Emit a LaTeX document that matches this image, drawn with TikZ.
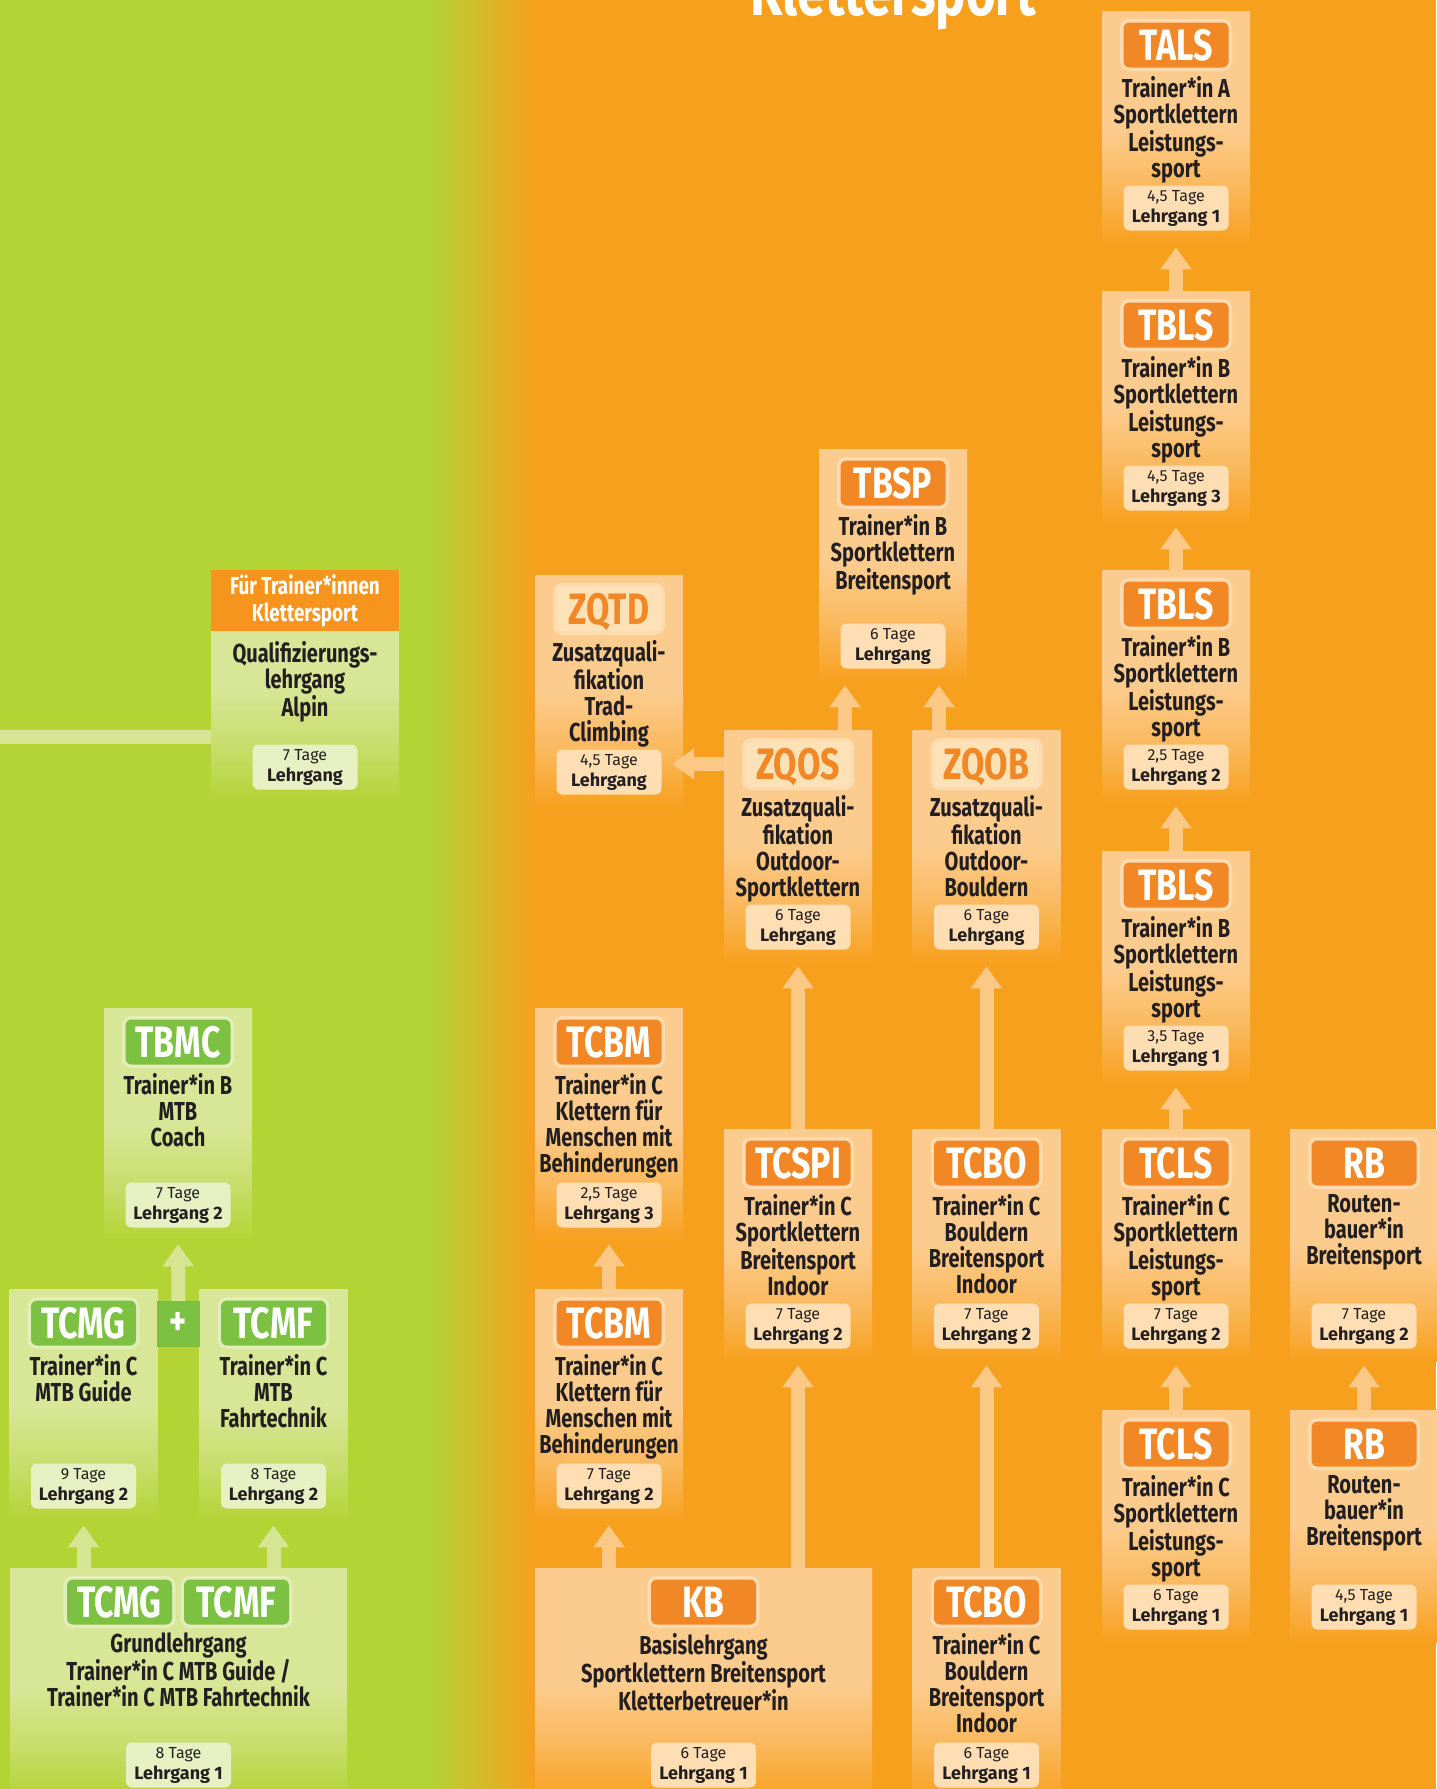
\documentclass[tikz,border=0pt]{standalone}
\usepackage{fontspec}
\setmainfont{Fira Sans}[FakeStretch=0.77]
\newfontfamily\breit{Fira Sans}
\usetikzlibrary{calc,arrows.meta}

\definecolor{orbg}{RGB}{247,160,30}
\definecolor{orlight}{RGB}{252,204,142}
\definecolor{orinfo}{RGB}{254,222,178}
\definecolor{orbadge}{RGB}{242,135,38}
\definecolor{orbtext}{RGB}{255,255,255}
\definecolor{orpfeil}{RGB}{251,200,134}
\definecolor{orkopf}{RGB}{246,148,30}
\definecolor{grbg}{RGB}{180,211,52}
\definecolor{grlight}{RGB}{216,230,152}
\definecolor{grinfo}{RGB}{230,240,194}
\definecolor{grbadge}{RGB}{125,193,66}
\definecolor{grbtext}{RGB}{255,255,255}
\definecolor{grpfeil}{RGB}{214,229,146}
\definecolor{zqbadge}{RGB}{253,226,184}
\definecolor{zqbtext}{RGB}{242,135,38}
\colorlet{zqinfo}{orinfo}
\definecolor{tiefgrau}{RGB}{35,31,32}

\pgfdeclareverticalshading{orfade}{100bp}{color(0bp)=(orbg); color(25bp)=(orbg); color(37bp)=(orlight!55!orbg); color(50bp)=(orlight); color(100bp)=(orlight)}
\pgfdeclareverticalshading{zqfade}{100bp}{color(0bp)=(orbg); color(25bp)=(orbg); color(37bp)=(orlight!55!orbg); color(50bp)=(orlight); color(100bp)=(orlight)}
\pgfdeclareverticalshading{grfade}{100bp}{color(0bp)=(grbg); color(25bp)=(grbg); color(37bp)=(grlight!55!grbg); color(50bp)=(grlight); color(100bp)=(grlight)}

\tikzset{
  kursbox/.style={shade, shading=#1fade, minimum height=232pt, inner sep=0pt, anchor=north},
  kuerzel/.style={fill=#1badge, text=#1btext, rounded corners=6pt, minimum width=105pt,
    minimum height=45pt, inner sep=0pt, text height=30pt, text depth=0pt,
    font=\fontsize{44}{44}\selectfont\bfseries,
    preaction={draw=white, draw opacity=0.3, line width=7pt}},
  kurstext/.style={anchor=north, inner sep=0pt, align=center, text=tiefgrau,
    font=\fontsize{26}{26}\selectfont\bfseries},
  dauer/.style={fill=#1info, rounded corners=6pt, minimum width=105pt, minimum height=45pt,
    inner sep=0pt, align=center, text=tiefgrau, font=\breit\fontsize{16}{21}\selectfont},
  kopf/.style={fill=orkopf, text=white, minimum width=188pt, minimum height=61pt, inner sep=0pt,
    align=center, font=\fontsize{24.5}{27}\selectfont\bfseries},
  plusbox/.style={fill=grbadge, text=white, minimum width=43pt, minimum height=46pt, inner sep=0pt,
    font=\fontsize{42}{42}\selectfont\bfseries},
  pfeil/.style={draw=#1pfeil, line width=14pt, -{Triangle[width=30pt,length=22pt]}, shorten >=4pt},
  balken/.style={draw=grpfeil, line width=14pt},
  titel/.style={anchor=base, inner sep=0pt, text=white, font=\fontsize{66}{66}\selectfont\bfseries},
}

% Kasten: [Breite] Name, Farbe, Lage (oben Mitte), Kuerzel, Text, Tage, Lehrgang
\newcommand{\kurs}[8][148pt]{%
  \node[kursbox=#3, minimum width=#1] (#2) at (#4) {};
  \node[kuerzel=#3] (#2-k) at ($(#2.north)+(0,34)$) {#5};
  \node[kurstext] (#2-t) at ($(#2.north)+(0,65)$) {#6};
  \node[dauer=#3] (#2-d) at ($(#2.north)+(0,197)$) {#7\\\textbf{\fontsize{18}{21}\selectfont #8}};
}

\begin{document}
\begin{tikzpicture}[x=1pt,y=-1pt]
  \useasboundingbox (0,0) rectangle (1436,1789);
  % Hintergrund
  \fill[grbg] (0,0) rectangle (430,1789);
  \shade[left color=grbg, right color=orbg] (430,0) rectangle (535,1789);
  \fill[orbg] (535,0) rectangle (1436,1789);
  \node[titel] (titel) at (893,15) {Klettersport};

  % Leistungssport
  \kurs{tals}{or}{1176,11}{TALS}{Trainer*in A\\Sportklettern\\Leistungs-\\sport}{4,5 Tage}{Lehrgang 1}
  \kurs{tblsc}{or}{1176,291}{TBLS}{Trainer*in B\\Sportklettern\\Leistungs-\\sport}{4,5 Tage}{Lehrgang 3}
  \kurs{tblsb}{or}{1176,570}{TBLS}{Trainer*in B\\Sportklettern\\Leistungs-\\sport}{2,5 Tage}{Lehrgang 2}
  \kurs{tblsa}{or}{1176,851}{TBLS}{Trainer*in B\\Sportklettern\\Leistungs-\\sport}{3,5 Tage}{Lehrgang 1}
  \kurs{tclsb}{or}{1176,1129}{TCLS}{Trainer*in C\\Sportklettern\\Leistungs-\\sport}{7 Tage}{Lehrgang 2}
  \kurs{tclsa}{or}{1176,1410}{TCLS}{Trainer*in C\\Sportklettern\\Leistungs-\\sport}{6 Tage}{Lehrgang 1}
  \kurs{rbb}{or}{1364,1129}{RB}{Routen-\\bauer*in\\Breitensport}{7 Tage}{Lehrgang 2}
  \kurs{rba}{or}{1364,1410}{RB}{Routen-\\bauer*in\\Breitensport}{4,5 Tage}{Lehrgang 1}

  % Breitensport
  \kurs{tbsp}{or}{893,449}{TBSP}{Trainer*in B\\Sportklettern\\Breitensport}{6 Tage}{Lehrgang}
  \kurs{zqtd}{zq}{609,575}{ZQTD}{Zusatzquali-\\fikation\\Trad-\\Climbing}{4,5 Tage}{Lehrgang}
  \kurs{zqos}{zq}{798,730}{ZQOS}{Zusatzquali-\\fikation\\Outdoor-\\Sportklettern}{6 Tage}{Lehrgang}
  \kurs{zqob}{zq}{986.5,730}{ZQOB}{Zusatzquali-\\fikation\\Outdoor-\\Bouldern}{6 Tage}{Lehrgang}
  \kurs{tcbmb}{or}{609,1008}{TCBM}{Trainer*in C\\Klettern für\\Menschen mit\\Behinderungen}{2,5 Tage}{Lehrgang 3}
  \kurs{tcbma}{or}{609,1289}{TCBM}{Trainer*in C\\Klettern für\\Menschen mit\\Behinderungen}{7 Tage}{Lehrgang 2}
  \kurs{tcspi}{or}{798,1129}{TCSPI}{Trainer*in C\\Sportklettern\\Breitensport\\Indoor}{7 Tage}{Lehrgang 2}
  \kurs{tcbob}{or}{986.5,1129}{TCBO}{Trainer*in C\\Bouldern\\Breitensport\\Indoor}{7 Tage}{Lehrgang 2}
  \kurs[337pt]{kb}{or}{703.5,1568}{KB}{Basislehrgang\\Sportklettern Breitensport\\Kletterbetreuer*in}{6 Tage}{Lehrgang 1}
  \kurs{tcboa}{or}{986.5,1568}{TCBO}{Trainer*in C\\Bouldern\\Breitensport\\Indoor}{6 Tage}{Lehrgang 1}

  % MTB und Alpin
  \node[kursbox=gr, minimum width=188pt] (qual) at (305,570) {};
  \node[kopf] (qual-h) at ($(qual.north)+(0,30.5)$) {Für Trainer*innen\\Klettersport};
  \node[kurstext] (qual-t) at ($(qual.north)+(0,71)$) {Qualifizierungs-\\lehrgang\\Alpin};
  \node[dauer=gr] (qual-d) at ($(qual.north)+(0,197)$) {7 Tage\\\textbf{\fontsize{18}{21}\selectfont Lehrgang}};
  \kurs{tbmc}{gr}{178,1008}{TBMC}{Trainer*in B\\MTB\\Coach}{7 Tage}{Lehrgang 2}
  \kurs{tcmg}{gr}{83.5,1289}{TCMG}{Trainer*in C\\MTB Guide}{9 Tage}{Lehrgang 2}
  \kurs{tcmf}{gr}{273.5,1289}{TCMF}{Trainer*in C\\MTB\\Fahrtechnik}{8 Tage}{Lehrgang 2}
  \node[plusbox] (plus) at (178.5,1324) {+};
  \node[kursbox=gr, minimum width=337pt] (grund) at (178.5,1568) {};
  \node[kuerzel=gr] (grund-k1) at ($(grund.north)+(-59,34)$) {TCMG};
  \node[kuerzel=gr] (grund-k2) at ($(grund.north)+(58,34)$) {TCMF};
  \node[kurstext] (grund-t) at ($(grund.north)+(0,65)$) {Grundlehrgang\\Trainer*in C MTB Guide /\\Trainer*in C MTB Fahrtechnik};
  \node[dauer=gr] (grund-d) at ($(grund.north)+(0,197)$) {8 Tage\\\textbf{\fontsize{18}{21}\selectfont Lehrgang 1}};

  % Verbindungen
  \coordinate (links) at (0,737);
  \draw[balken] (links) -- (links -| qual.west);
  \draw[pfeil=or] (tblsc.north) -- (tals.south);
  \draw[pfeil=or] (tblsb.north) -- (tblsc.south);
  \draw[pfeil=or] (tblsa.north) -- (tblsb.south);
  \draw[pfeil=or] (tclsb.north) -- (tblsa.south);
  \draw[pfeil=or] (tclsa.north) -- (tclsb.south);
  \draw[pfeil=or] (rba.north) -- (rbb.south);
  \coordinate (tbsp-l) at ($(tbsp.south)+(-48,0)$);
  \coordinate (tbsp-r) at ($(tbsp.south)+(46,0)$);
  \draw[pfeil=or] (zqos.north -| tbsp-l) -- (tbsp-l);
  \draw[pfeil=or] (zqob.north -| tbsp-r) -- (tbsp-r);
  \draw[pfeil=or, shorten >=-11pt] (zqos-k -| zqos.west) -- (zqos-k -| zqtd.east);
  \draw[pfeil=or] (tcspi.north) -- (zqos.south);
  \draw[pfeil=or] (tcbob.north) -- (zqob.south);
  \draw[pfeil=or] (kb.north -| tcspi.south) -- (tcspi.south);
  \draw[pfeil=or] (tcboa.north) -- (tcbob.south);
  \draw[pfeil=or] (tcbma.north) -- (tcbmb.south);
  \draw[pfeil=or] (kb.north -| tcbma.south) -- (tcbma.south);
  \draw[pfeil=gr] (plus.north) -- (tbmc.south);
  \draw[pfeil=gr] (grund.north -| tcmg.south) -- (tcmg.south);
  \draw[pfeil=gr] (grund.north -| tcmf.south) -- (tcmf.south);
\end{tikzpicture}
\end{document}
